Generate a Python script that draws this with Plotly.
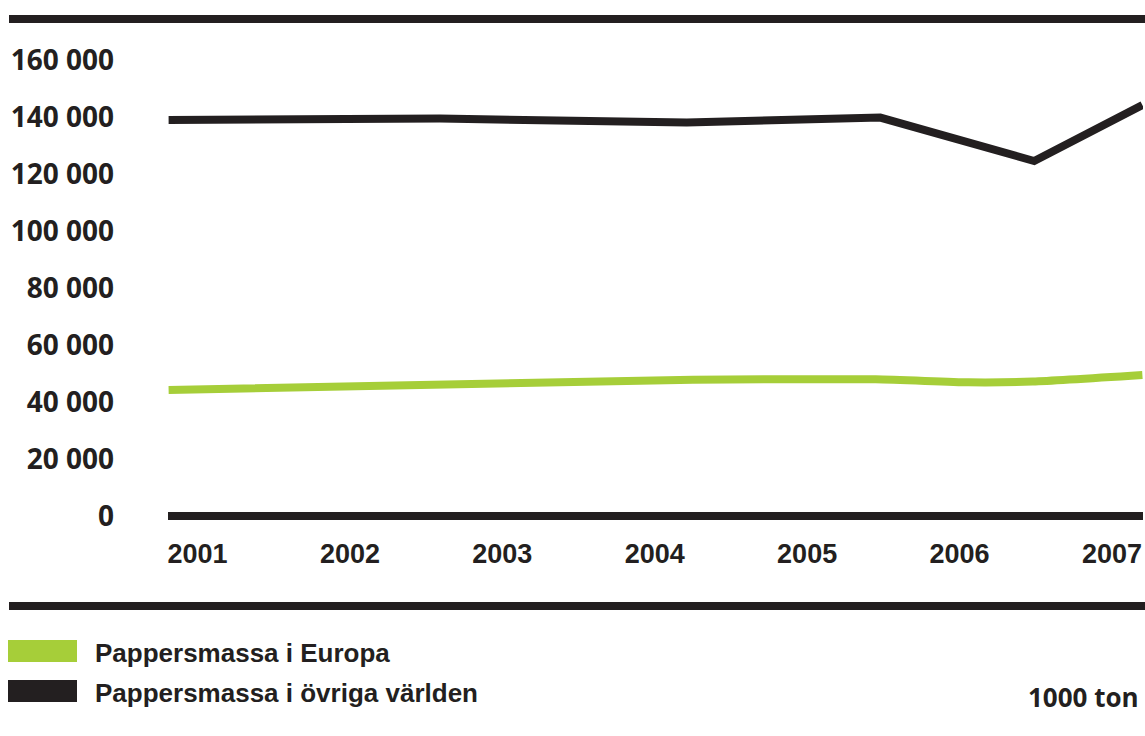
import plotly.graph_objects as go

# Pulp consumption, 1000 tonnes (x given in decimal years)
europe_x = [2000.81, 2004.25, 2005.45, 2006.06, 2006.48, 2007.20]
europe_y = [44200, 47850, 47950, 46900, 47150, 49450]

world_x = [2000.81, 2002.59, 2004.21, 2005.48, 2006.49, 2007.20]
world_y = [138950, 139450, 138050, 139800, 124550, 144200]

years = [2001, 2002, 2003, 2004, 2005, 2006, 2007]
y_ticks = [0, 20000, 40000, 60000, 80000, 100000, 120000, 140000, 160000]
y_tick_labels = ["0", "20 000", "40 000", "60 000", "80 000",
                 "100 000", "120 000", "140 000", "160 000"]

series_names = ["Pappersmassa i Europa", "Pappersmassa i övriga världen"]
unit_label = "1000 ton"

GREEN = "#A6CE39"
BLACK = "#231F20"

W, H = 1145, 736
L, R, T, B = 168, 2, 30, 206
plot_w = W - L - R
plot_h = H - T - B


def px_x(x):
    return (x - L) / plot_w


def px_y(y):
    return (H - B - y) / plot_h


fig = go.Figure()
fig.add_trace(go.Scatter(x=europe_x, y=europe_y, mode="lines",
                         line=dict(color=GREEN, width=8, shape="spline", smoothing=0.6),
                         name=series_names[0]))
fig.add_trace(go.Scatter(x=world_x, y=world_y, mode="lines",
                         line=dict(color=BLACK, width=8),
                         name=series_names[1]))

label_font = dict(family="Liberation Sans, Arial, sans-serif", size=27, color=BLACK,
                  weight="bold")
num_font = dict(family="Open Sans, sans-serif", size=28, color=BLACK, weight="bold")

fig.update_layout(
    width=W, height=H,
    margin=dict(l=L, r=R, t=T, b=B),
    paper_bgcolor="white", plot_bgcolor="white",
    showlegend=False,
    xaxis=dict(range=[2000.806, 2007.204], tickvals=years,
               ticktext=[str(y) for y in years],
               showgrid=False, zeroline=False, showline=False, ticks="",
               tickfont=label_font, ticklabelstandoff=5),
    yaxis=dict(range=[-4912, 170526], tickvals=y_ticks, ticktext=y_tick_labels,
               showgrid=False, zeroline=False, showline=False, ticks="",
               tickfont=num_font, ticklabelstandoff=53),
)

# heavy rules: top, baseline at zero, and below the year labels
fig.add_shape(type="line", xref="paper", yref="paper",
              x0=px_x(9), x1=px_x(1145), y0=px_y(19), y1=px_y(19),
              line=dict(color=BLACK, width=8))
fig.add_shape(type="line", xref="paper", yref="y",
              x0=0, x1=1, y0=0, y1=0,
              line=dict(color=BLACK, width=8))
fig.add_shape(type="line", xref="paper", yref="paper",
              x0=px_x(9), x1=px_x(1145), y0=px_y(606), y1=px_y(606),
              line=dict(color=BLACK, width=8))

# legend swatches and labels
for name, col, yc in zip(series_names, [GREEN, BLACK], [651, 691]):
    fig.add_shape(type="rect", xref="paper", yref="paper",
                  x0=px_x(8), x1=px_x(77), y0=px_y(yc - 11), y1=px_y(yc + 11),
                  fillcolor=col, line=dict(width=0))
    fig.add_annotation(xref="paper", yref="paper", x=px_x(93), y=px_y(yc + 2),
                       text=name, showarrow=False, xanchor="left", yanchor="middle",
                       font=dict(label_font, size=26))

fig.add_annotation(xref="paper", yref="paper", x=px_x(1141), y=px_y(697),
                   text=unit_label, showarrow=False, xanchor="right", yanchor="middle",
                   font=dict(num_font, size=26))

fig.write_html("out.html")
